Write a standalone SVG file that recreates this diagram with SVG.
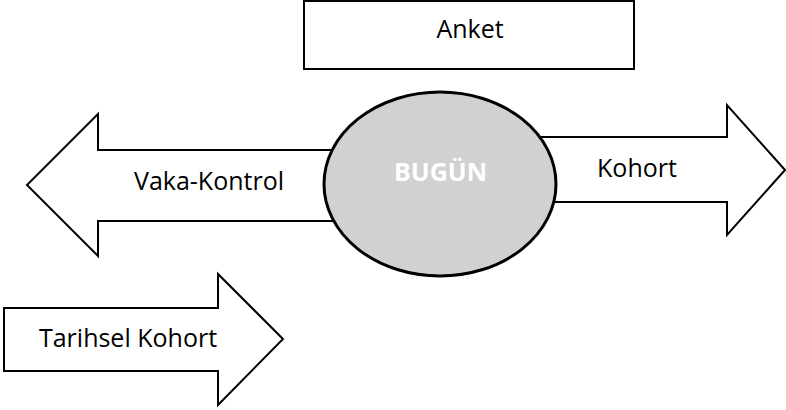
<svg xmlns="http://www.w3.org/2000/svg" width="786" height="410" viewBox="0 0 786 410">
<style>
.shape{fill:#fff;stroke:#000;stroke-width:2;stroke-linejoin:miter}
.lbl{font-family:"Open Sans","Liberation Sans",sans-serif;font-size:25px;fill:#000}
</style>
<rect width="786" height="410" fill="#fff"/>
<g id="connectors">
<g id="vaka-kontrol">
<polygon class="shape" points="340,150 98,150 98,114 27,185 98,256 98,221 340,221"/>
<text class="lbl" x="209" y="190" text-anchor="middle">Vaka-Kontrol</text>
</g>
<g id="kohort">
<polygon class="shape" points="540,137 727,137 727,105 785,170 727,235 727,202 540,202"/>
<text class="lbl" x="637" y="177" text-anchor="middle">Kohort</text>
</g>
</g>
<g id="bugun">
<ellipse cx="440" cy="184" rx="116" ry="92" fill="#d0d1d0" stroke="#000" stroke-width="3"/>
<text x="440.5" y="181" text-anchor="middle" font-family="'Open Sans','Liberation Sans',sans-serif" font-size="25" font-weight="bold" fill="#fff">BUGÜN</text>
</g>
<g id="anket">
<rect class="shape" x="304" y="1" width="330" height="68"/>
<text class="lbl" x="470" y="38" text-anchor="middle">Anket</text>
</g>
<g id="tarihsel-kohort">
<polygon class="shape" points="4,308 218,308 218,274 283,339 218,405 218,371 4,371"/>
<text class="lbl" x="128" y="347" text-anchor="middle">Tarihsel Kohort</text>
</g>
</svg>
